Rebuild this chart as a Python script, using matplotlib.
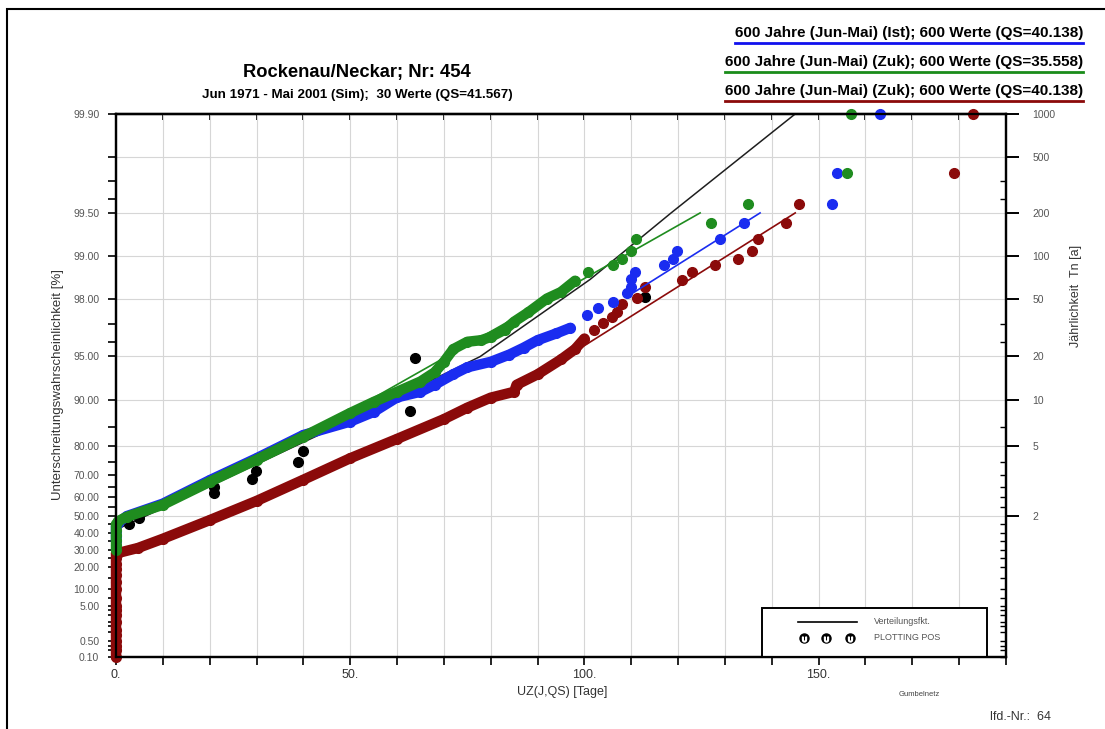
import numpy as np
import matplotlib
matplotlib.use("Agg")
import matplotlib.pyplot as plt
from matplotlib.lines import Line2D
from matplotlib.patches import Rectangle

plt.rcParams['font.family'] = ['Liberation Sans', 'DejaVu Sans']

# --- Daten -------------------------------------------------------------
# Simulation, 30 Werte (schwarze Punkte)
sim_x = [2.8, 4.9, 20.9, 20.9, 29.0, 29.9, 38.9, 39.9, 62.8, 63.8, 112.9]
sim_p = [45.4, 48.8, 64.9, 62.1, 68.4, 71.7, 75.0, 78.6, 88.2, 94.8, 98.06]

# Verteilungsfunktion (schwarze Linie)
vf_x = [0.0, 15.2, 45.7, 77.7, 101.2, 118.5, 145.0]
vf_p = [41.9, 60.1, 84.3, 94.93, 98.53, 99.50, 99.90]

# Zuk QS=40.138 (dunkelrot)
red_zero_p = [0.1, 0.2, 0.3, 0.5, 0.8, 1.2, 2, 3, 4, 5, 7, 10, 13, 16, 19, 22, 25, 28]
red_band_x = [0.5, 4.7, 10, 20, 30, 40, 50, 60, 70, 75, 80, 85, 85.5, 90, 95, 98, 100]
red_band_p = [28.1, 31.0, 36.5, 47.5, 58.0, 68.0, 76.2, 82.0, 86.6, 88.75, 90.36, 91.2,
              92.1, 93.3, 94.7, 95.5, 96.2]
red_pts_x = [102, 104, 105.9, 107, 108, 111.2, 113, 120.8, 123, 127.9, 132.8, 135.8,
             137, 143, 145.8, 178.9, 183]
red_pts_p = [96.7, 97.06, 97.29, 97.53, 97.8, 98.03, 98.33, 98.51, 98.69, 98.83, 98.95,
             99.08, 99.24, 99.41, 99.57, 99.74, 99.90]
red_fit_x = [82, 145]
red_fit_p = [90.2, 99.5]

# Ist QS=40.138 (blau)
blue_zero_p = [35, 38, 41, 44]
blue_band_x = [0.5, 2.3, 10, 20, 30, 40, 50, 55, 60, 65, 68, 72, 75, 80, 84, 87, 90, 94, 97]
blue_band_p = [46.0, 49.8, 56.6, 67.8, 76.2, 83.0, 86.1, 88.0, 90.4, 91.2, 92.1, 93.3,
               94.0, 94.5, 95.1, 95.6, 96.1, 96.5, 96.8]
blue_pts_x = [100.5, 103, 106, 109, 110, 110, 110.8, 117, 119, 119.8, 129, 134, 152.9,
              153.9, 163]
blue_pts_p = [97.41, 97.69, 97.87, 98.16, 98.35, 98.53, 98.69, 98.83, 98.95, 99.08, 99.24,
              99.41, 99.57, 99.74, 99.90]
blue_fit_x = [109, 137.5]
blue_fit_p = [98.05, 99.5]

# Zuk QS=35.558 (gruen)
green_zero_p = [30, 33, 36, 39, 42, 45]
green_band_x = [0.5, 2.3, 10, 20, 30, 40, 50, 55, 60, 65, 68, 70, 72, 75, 78, 80, 83, 85,
                88, 92, 95, 98]
green_band_p = [47.0, 49.4, 56.0, 67.1, 75.7, 82.6, 87.8, 89.7, 91.2, 92.5, 93.5, 94.5,
                95.5, 96.0, 96.1, 96.3, 96.7, 97.1, 97.5, 98.0, 98.2, 98.5]
green_pts_x = [100.8, 106, 108, 110, 111, 127, 135, 156, 157]
green_pts_p = [98.69, 98.83, 98.95, 99.08, 99.24, 99.41, 99.57, 99.74, 99.90]
green_fit_x = [45, 124.7]
green_fit_p = [85.5, 99.5]

# Achsenteilung
p_major = [0.1, 0.5, 5, 10, 20, 30, 40, 50, 60, 70, 80, 90, 95, 98, 99, 99.5, 99.9]
p_minor = [0.2, 0.3, 1, 1.5, 2, 3, 4, 7, 15, 25, 35, 45, 55, 65, 75, 85, 96, 97,
           99.6, 99.7, 99.8]
t_major = [2, 5, 10, 20, 50, 100, 200, 500, 1000]

legend_lines = [
    ("600 Jahre (Jun-Mai) (Ist); 600 Werte (QS=40.138)", "#1010ee"),
    ("600 Jahre (Jun-Mai) (Zuk); 600 Werte (QS=35.558)", "#1a8c1a"),
    ("600 Jahre (Jun-Mai) (Zuk); 600 Werte (QS=40.138)", "#8b0a0a"),
]

RED = "#8b0a0a"
BLUE = "#1a2cf0"
GREEN = "#1f8c1f"


def gumbel(p):
    p = np.clip(np.asarray(p, dtype=float) / 100.0, 1e-9, 1 - 1e-9)
    return -np.log(-np.log(p))


def gumbel_inv(u):
    return 100.0 * np.exp(-np.exp(-np.asarray(u, dtype=float)))


fig = plt.figure(figsize=(11.05, 7.29), dpi=100)
ax = fig.add_axes([0.1050, 0.0988, 0.8054, 0.7449])
ax.set_yscale('function', functions=(gumbel, gumbel_inv))
ax.set_xlim(0, 190)
ax.set_ylim(0.1, 99.9)

# Gitter
ax.set_xticks(np.arange(0, 191, 10), minor=True)
ax.grid(axis='x', which='both', color='#d6d6d6', lw=0.8, zorder=0)
p_T = [100.0 * (1 - 1.0 / t) for t in t_major]
for p in p_T[:-1]:
    ax.axhline(p, color='#d6d6d6', lw=0.8, zorder=0)

# schwarze Linie und Punkte
ax.plot(vf_x, vf_p, color='#1e1e1e', lw=1.1, zorder=2)
ax.plot(sim_x, sim_p, 'o', color='black', ms=7, zorder=2)


def draw_series(zero_p, bx, bp, px, pp, fx, fp, col, z):
    xs = [0.0] * len(zero_p) + list(bx)
    ps = list(zero_p) + list(bp)
    ax.plot(xs, ps, '-', color=col, lw=7.5, solid_capstyle='round', zorder=z, clip_on=False)
    ax.plot(xs, ps, 'o', color=col, ms=7, zorder=z, clip_on=False)
    ax.plot(px, pp, 'o', color=col, ms=7, zorder=z, clip_on=False)
    ax.plot(fx, fp, '-', color=col, lw=1.2, zorder=z + 0.5)


draw_series(red_zero_p, red_band_x, red_band_p, red_pts_x, red_pts_p,
            red_fit_x, red_fit_p, RED, 3)
draw_series(blue_zero_p, blue_band_x, blue_band_p, blue_pts_x, blue_pts_p,
            blue_fit_x, blue_fit_p, BLUE, 4)
draw_series(green_zero_p, green_band_x, green_band_p, green_pts_x, green_pts_p,
            green_fit_x, green_fit_p, GREEN, 5)

# linke Achse
ax.set_yticks(p_major)
ax.set_yticklabels([f"{p:.2f}" for p in p_major])
ax.set_yticks(p_minor, minor=True)
ax.tick_params(axis='y', which='both', direction='out', length=6, width=1.2,
               labelsize=7.5, labelcolor='#555555', pad=6, right=False)

# untere Achse
ax.set_xticks([0, 50, 100, 150])
ax.set_xticklabels(["0.", "50.", "100.", "150."])
ax.tick_params(axis='x', which='both', direction='out', length=6, width=1.2,
               labelsize=9, labelcolor='#333333', pad=3)

for s in ax.spines.values():
    s.set_linewidth(1.6)

# obere Achse: nur Striche nach innen
top = ax.secondary_xaxis('top')
top.set_xticks(np.arange(0, 191, 10))
top.set_xticklabels([])
top.tick_params(direction='in', length=4, width=1.2)
top.spines['top'].set_linewidth(1.6)

# rechte Achse: Jaehrlichkeit
tw = ax.twinx()
tw.set_yscale('function', functions=(gumbel, gumbel_inv))
tw.set_ylim(ax.get_ylim())
tw.set_yticks(p_T)
tw.set_yticklabels([str(t) for t in t_major])
tw.set_yticks([p for p in p_major + p_minor if p not in p_T], minor=True)
tw.tick_params(axis='y', which='major', direction='out', length=9, width=1.4,
               labelsize=7.5, labelcolor='#555555', pad=10)
tw.tick_params(axis='y', which='minor', direction='in', length=4, width=1.0)
for s in tw.spines.values():
    s.set_linewidth(1.6)

# Legende unten rechts
ax.add_patch(Rectangle((0.726, 0.0), 0.253, 0.090, transform=ax.transAxes,
                       facecolor='white', edgecolor='black', lw=1.4, zorder=8))
ax.add_line(Line2D([0.766, 0.833], [0.0645, 0.0645], transform=ax.transAxes,
                   color='black', lw=1.2, zorder=9))
ax.plot([0.773, 0.798, 0.825], [0.035, 0.035, 0.035], 'o', color='black', ms=6.5,
        transform=ax.transAxes, zorder=9)
ax.plot([0.773, 0.798, 0.825], [0.033, 0.033, 0.033], marker=r'$\cup$', ls='none',
        color='white', ms=3.5, transform=ax.transAxes, zorder=10)
ax.text(0.852, 0.0645, "Verteilungsfkt.", transform=ax.transAxes, fontsize=6.5,
        color='#555555', va='center', zorder=10)
ax.text(0.852, 0.035, "PLOTTING POS", transform=ax.transAxes, fontsize=6.5,
        color='#555555', va='center', zorder=10)

# Beschriftungen
fig.text(357 / 1105, 1 - 77 / 729, "Rockenau/Neckar; Nr: 454", ha='center', va='baseline',
         fontsize=13.2, fontweight='bold')
fig.text(357 / 1105, 1 - 98 / 729, "Jun 1971 - Mai 2001 (Sim);  30 Werte (QS=41.567)",
         ha='center', va='baseline', fontsize=9.6, fontweight='bold')
fig.text(58 / 1105, 1 - 385 / 729, "Unterschreitungswahrscheinlichkeit [%]", rotation=90,
         ha='center', va='center', fontsize=9.5, color='#333333')
fig.text(1076 / 1105, 1 - 296 / 729, "Jährlichkeit  Tn [a]", rotation=90,
         ha='center', va='center', fontsize=9, color='#333333')
fig.text(562 / 1105, 1 - 692 / 729, "UZ(J,QS) [Tage]", ha='center', va='center',
         fontsize=9, color='#333333')
fig.text(919 / 1105, 1 - 695 / 729, "Gumbelnetz", ha='center', va='center',
         fontsize=5.5, color='#444444')
fig.text(990 / 1105, 1 - 717 / 729, "lfd.-Nr.:  64", ha='left', va='center',
         fontsize=9, color='#333333')

# Kopfzeilen rechts mit farbiger Unterstreichung
heads = []
for i, (txt, col) in enumerate(legend_lines):
    y = 1 - (37 + 29 * i) / 729
    heads.append((fig.text(1083 / 1105, y, txt, ha='right', va='baseline', fontsize=11,
                           fontweight='bold'), col, y))
fig.canvas.draw()
inv = fig.transFigure.inverted()
for t, col, y in heads:
    bb = t.get_window_extent().transformed(inv)
    fig.add_artist(Line2D([bb.x0, bb.x1], [y - 6 / 729, y - 6 / 729], color=col, lw=2))

# Rahmen
fig.add_artist(Rectangle((7 / 1105, -0.05), 1.2, 1 - 9 / 729 + 0.05,
                         transform=fig.transFigure, fill=False, ec='black', lw=1.5))

fig.savefig("out.png", dpi=100)
